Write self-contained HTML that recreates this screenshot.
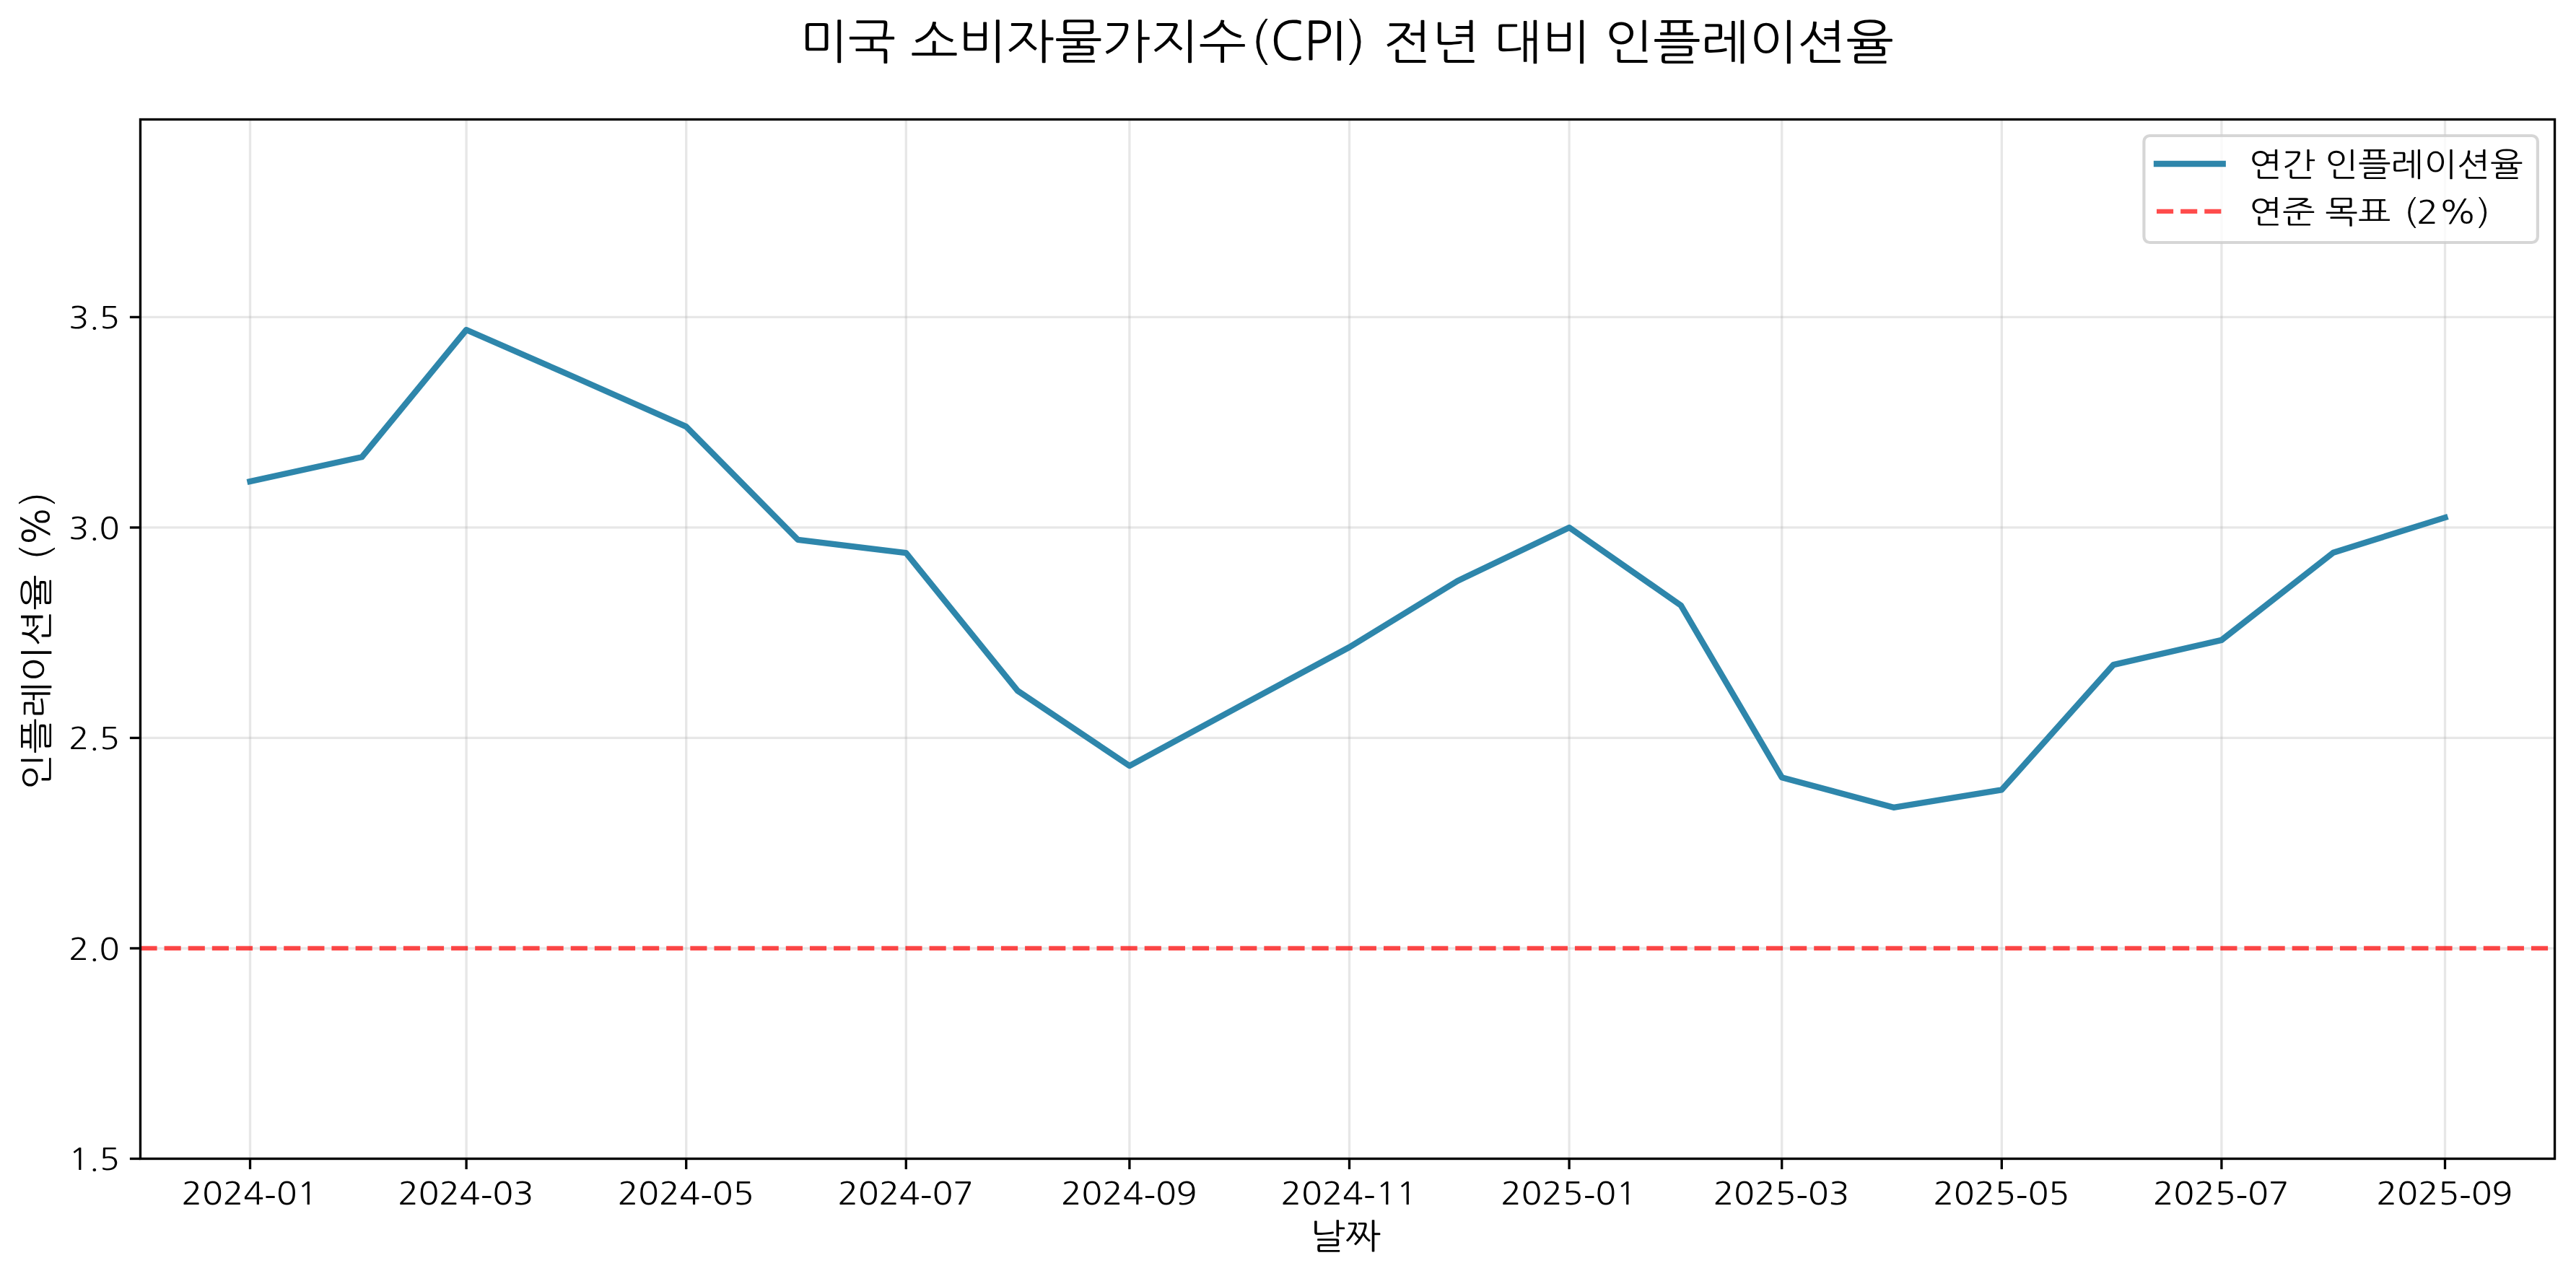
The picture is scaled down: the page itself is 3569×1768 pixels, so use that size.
<!DOCTYPE html>
<html lang="ko"><head><meta charset="utf-8"><title>미국 소비자물가지수(CPI) 전년 대비 인플레이션율</title>
<style>
html,body{margin:0;padding:0;background:#fff;width:3569px;height:1768px;overflow:hidden}
svg{display:block;will-change:transform}
text{font-family:"NanumGothic","Liberation Sans","Noto Sans CJK KR",sans-serif;fill:#000}
</style></head><body>
<svg width="3569" height="1768" viewBox="0 0 3569 1768">
<rect x="0" y="0" width="3569" height="1768" fill="#fff"/>
<g stroke="#b0b0b0" stroke-opacity="0.3" stroke-width="3.333"><line x1="346.50" y1="165.5" x2="346.50" y2="1605.5"/><line x1="646.11" y1="165.5" x2="646.11" y2="1605.5"/><line x1="950.71" y1="165.5" x2="950.71" y2="1605.5"/><line x1="1255.30" y1="165.5" x2="1255.30" y2="1605.5"/><line x1="1564.90" y1="165.5" x2="1564.90" y2="1605.5"/><line x1="1869.50" y1="165.5" x2="1869.50" y2="1605.5"/><line x1="2174.10" y1="165.5" x2="2174.10" y2="1605.5"/><line x1="2468.71" y1="165.5" x2="2468.71" y2="1605.5"/><line x1="2773.31" y1="165.5" x2="2773.31" y2="1605.5"/><line x1="3077.91" y1="165.5" x2="3077.91" y2="1605.5"/><line x1="3387.50" y1="165.5" x2="3387.50" y2="1605.5"/><line x1="194.45" y1="1605.50" x2="3539.55" y2="1605.50"/><line x1="194.45" y1="1313.97" x2="3539.55" y2="1313.97"/><line x1="194.45" y1="1022.45" x2="3539.55" y2="1022.45"/><line x1="194.45" y1="730.93" x2="3539.55" y2="730.93"/><line x1="194.45" y1="439.40" x2="3539.55" y2="439.40"/></g>
<polyline points="346.50,667.10 501.30,633.30 646.11,457.00 800.90,524.70 950.71,591.10 1105.50,747.90 1255.30,766.20 1410.10,957.30 1564.90,1061.10 1714.70,980.10 1869.50,896.75 2019.30,805.00 2174.10,730.90 2328.89,838.80 2468.71,1077.20 2623.50,1118.80 2773.31,1094.30 2928.10,921.10 3077.91,886.90 3232.70,765.70 3387.50,717.10" fill="none" stroke="#2E86AB" stroke-width="8.333" stroke-linejoin="round" stroke-linecap="square"/>
<line x1="194.45" y1="1313.97" x2="3539.55" y2="1313.97" stroke="#ff0000" stroke-opacity="0.7" stroke-width="6.25" stroke-dasharray="23.125 10"/>
<rect x="194.45" y="165.5" width="3345.10" height="1440.00" fill="none" stroke="#000" stroke-width="3.333" stroke-linejoin="miter"/>
<g stroke="#000" stroke-width="3.333"><line x1="346.50" y1="1605.5" x2="346.50" y2="1620.08"/><line x1="646.11" y1="1605.5" x2="646.11" y2="1620.08"/><line x1="950.71" y1="1605.5" x2="950.71" y2="1620.08"/><line x1="1255.30" y1="1605.5" x2="1255.30" y2="1620.08"/><line x1="1564.90" y1="1605.5" x2="1564.90" y2="1620.08"/><line x1="1869.50" y1="1605.5" x2="1869.50" y2="1620.08"/><line x1="2174.10" y1="1605.5" x2="2174.10" y2="1620.08"/><line x1="2468.71" y1="1605.5" x2="2468.71" y2="1620.08"/><line x1="2773.31" y1="1605.5" x2="2773.31" y2="1620.08"/><line x1="3077.91" y1="1605.5" x2="3077.91" y2="1620.08"/><line x1="3387.50" y1="1605.5" x2="3387.50" y2="1620.08"/><line x1="179.87" y1="1605.50" x2="194.45" y2="1605.50"/><line x1="179.87" y1="1313.97" x2="194.45" y2="1313.97"/><line x1="179.87" y1="1022.45" x2="194.45" y2="1022.45"/><line x1="179.87" y1="730.93" x2="194.45" y2="730.93"/><line x1="179.87" y1="439.40" x2="194.45" y2="439.40"/></g>
<text x="345.81" y="1669.16" font-size="43.30" text-anchor="middle" textLength="188.43" lengthAdjust="spacingAndGlyphs">2024<tspan dy="6.3">-</tspan><tspan dy="-6.3">01</tspan></text>
<text x="645.42" y="1669.16" font-size="43.30" text-anchor="middle" textLength="188.43" lengthAdjust="spacingAndGlyphs">2024<tspan dy="6.3">-</tspan><tspan dy="-6.3">03</tspan></text>
<text x="950.02" y="1669.16" font-size="43.30" text-anchor="middle" textLength="188.43" lengthAdjust="spacingAndGlyphs">2024<tspan dy="6.3">-</tspan><tspan dy="-6.3">05</tspan></text>
<text x="1254.62" y="1669.16" font-size="43.30" text-anchor="middle" textLength="188.43" lengthAdjust="spacingAndGlyphs">2024<tspan dy="6.3">-</tspan><tspan dy="-6.3">07</tspan></text>
<text x="1564.21" y="1669.16" font-size="43.30" text-anchor="middle" textLength="188.43" lengthAdjust="spacingAndGlyphs">2024<tspan dy="6.3">-</tspan><tspan dy="-6.3">09</tspan></text>
<text x="1868.81" y="1669.16" font-size="43.30" text-anchor="middle" textLength="188.43" lengthAdjust="spacingAndGlyphs">2024<tspan dy="6.3">-</tspan><tspan dy="-6.3">11</tspan></text>
<text x="2173.41" y="1669.16" font-size="43.30" text-anchor="middle" textLength="188.43" lengthAdjust="spacingAndGlyphs">2025<tspan dy="6.3">-</tspan><tspan dy="-6.3">01</tspan></text>
<text x="2468.02" y="1669.16" font-size="43.30" text-anchor="middle" textLength="188.43" lengthAdjust="spacingAndGlyphs">2025<tspan dy="6.3">-</tspan><tspan dy="-6.3">03</tspan></text>
<text x="2772.62" y="1669.16" font-size="43.30" text-anchor="middle" textLength="188.43" lengthAdjust="spacingAndGlyphs">2025<tspan dy="6.3">-</tspan><tspan dy="-6.3">05</tspan></text>
<text x="3077.22" y="1669.16" font-size="43.30" text-anchor="middle" textLength="188.43" lengthAdjust="spacingAndGlyphs">2025<tspan dy="6.3">-</tspan><tspan dy="-6.3">07</tspan></text>
<text x="3386.81" y="1669.16" font-size="43.30" text-anchor="middle" textLength="188.43" lengthAdjust="spacingAndGlyphs">2025<tspan dy="6.3">-</tspan><tspan dy="-6.3">09</tspan></text>
<text x="165.71" y="1621.09" font-size="42.11" text-anchor="end" textLength="70.37" lengthAdjust="spacingAndGlyphs">1.5</text>
<text x="165.71" y="1329.57" font-size="42.11" text-anchor="end" textLength="70.37" lengthAdjust="spacingAndGlyphs">2.0</text>
<text x="165.71" y="1038.04" font-size="42.11" text-anchor="end" textLength="70.37" lengthAdjust="spacingAndGlyphs">2.5</text>
<text x="165.71" y="746.52" font-size="42.11" text-anchor="end" textLength="70.37" lengthAdjust="spacingAndGlyphs">3.0</text>
<text x="165.71" y="454.99" font-size="42.11" text-anchor="end" textLength="70.37" lengthAdjust="spacingAndGlyphs">3.5</text>
<text x="1864.09" y="1729.78" font-size="48.08" text-anchor="middle" textLength="98.51" lengthAdjust="spacingAndGlyphs">날짜</text>
<text transform="translate(66.59,1094.15) rotate(-90)" x="0" y="0" font-size="46.04" text-anchor="start" textLength="298.21" lengthAdjust="spacingAndGlyphs">인플레이션율</text>
<text transform="translate(68.66,776.50) rotate(-90)" x="0" y="0" font-size="51.33" text-anchor="start" textLength="94.99" lengthAdjust="spacingAndGlyphs">(%)</text>
<text x="1108.31" y="81.15" font-size="65.18" text-anchor="start" textLength="618.82" lengthAdjust="spacingAndGlyphs">미국 소비자물가지수</text>
<text x="1731.95" y="81.28" font-size="65.92" text-anchor="start" textLength="26.00" lengthAdjust="spacingAndGlyphs">(</text>
<text x="1760.05" y="83.11" font-size="72.98" text-anchor="start" textLength="103.18" lengthAdjust="spacingAndGlyphs">CP<tspan dy="-2.1">I</tspan></text>
<text x="1866.02" y="81.49" font-size="65.92" text-anchor="start" textLength="26.72" lengthAdjust="spacingAndGlyphs">)</text>
<text x="1916.44" y="82.08" font-size="65.64" text-anchor="start" textLength="707.48" lengthAdjust="spacingAndGlyphs">전년 대비 인플레이션율</text>
<rect x="2970.40" y="188.00" width="545.50" height="148.00" rx="8" ry="8" fill="#fff" fill-opacity="0.8" stroke="#cccccc" stroke-opacity="0.8" stroke-width="4.167"/>
<line x1="2988.00" y1="227.00" x2="3079.70" y2="227.00" stroke="#2E86AB" stroke-width="8.333" stroke-linecap="square"/>
<line x1="2988.00" y1="292.90" x2="3079.70" y2="292.90" stroke="#ff0000" stroke-opacity="0.7" stroke-width="6.25" stroke-dasharray="23.125 10"/>
<text x="3115.97" y="244.12" font-size="44.84" text-anchor="start" textLength="379.83" lengthAdjust="spacingAndGlyphs">연간 인플레이션율</text>
<text x="3116.31" y="309.12" font-size="43.63" text-anchor="start" textLength="196.12" lengthAdjust="spacingAndGlyphs">연준 목표</text>
<text x="3330.45" y="310.22" font-size="44.24" text-anchor="start" textLength="119.46" lengthAdjust="spacingAndGlyphs">(2%)</text>
</svg></body></html>
